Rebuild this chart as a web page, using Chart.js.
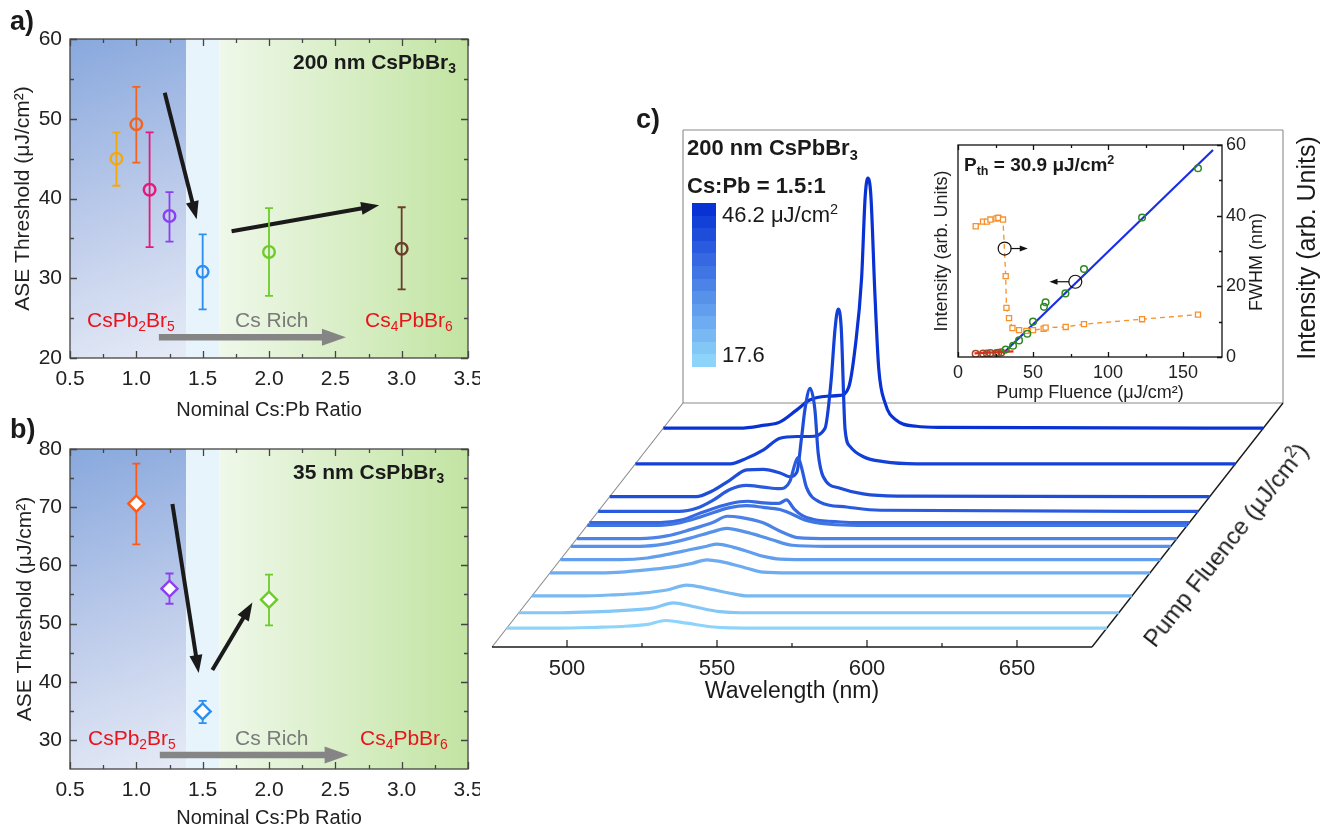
<!DOCTYPE html>
<html><head><meta charset="utf-8">
<script src="https://cdn.jsdelivr.net/npm/chart.js@4.4.0/dist/chart.umd.min.js"></script>
<style>
body{margin:0;background:#fff;width:1322px;height:828px;position:relative;overflow:hidden;font-family:"Liberation Sans",Arial,sans-serif;color:#1a1a1a;}
canvas{position:absolute;}
.t{position:absolute;white-space:nowrap;line-height:1;}
.c{transform:translate(-50%,-50%);}
.b{font-weight:bold;}
sub{font-size:0.66em;vertical-align:-0.32em;line-height:0;}
sup{font-size:0.66em;vertical-align:0.55em;line-height:0;}
.red{color:#e8141c;}
.gray{color:#7a7a7a;}
#cbar{position:absolute;left:692px;top:203px;width:24px;height:164px;display:flex;flex-direction:column;}
#cbar div{flex:1;}
</style></head><body>
<canvas id="chartA" width="480" height="428" style="left:0;top:0"></canvas>
<canvas id="chartB" width="480" height="400" style="left:0;top:428px"></canvas>
<canvas id="chartC" width="842" height="600" style="left:480px;top:110px"></canvas>
<canvas id="chartI" width="350" height="275" style="left:900px;top:130px"></canvas>

<div class="t b" style="left:10px;top:8px;font-size:27px">a)</div>
<div class="t b" style="left:10px;top:416px;font-size:27px">b)</div>
<div class="t b" style="left:636px;top:106px;font-size:27px">c)</div>

<div class="t b" style="left:293px;top:51px;font-size:21px">200 nm CsPbBr<sub>3</sub></div>
<div class="t red" style="left:87px;top:309px;font-size:21px">CsPb<sub>2</sub>Br<sub>5</sub></div>
<div class="t gray" style="left:235px;top:309px;font-size:21px">Cs Rich</div>
<div class="t red" style="left:365px;top:309px;font-size:21px">Cs<sub>4</sub>PbBr<sub>6</sub></div>

<div class="t b" style="left:293px;top:461px;font-size:21px">35 nm CsPbBr<sub>3</sub></div>
<div class="t red" style="left:88px;top:727px;font-size:21px">CsPb<sub>2</sub>Br<sub>5</sub></div>
<div class="t gray" style="left:235px;top:727px;font-size:21px">Cs Rich</div>
<div class="t red" style="left:360px;top:727px;font-size:21px">Cs<sub>4</sub>PbBr<sub>6</sub></div>

<div class="t b" style="left:687px;top:137px;font-size:22px">200 nm CsPbBr<sub>3</sub></div>
<div class="t b" style="left:687px;top:175px;font-size:22px">Cs:Pb = 1.5:1</div>
<div id="cbar"></div>
<div class="t" style="left:722px;top:204px;font-size:22px">46.2 μJ/cm<sup>2</sup></div>
<div class="t" style="left:722px;top:344px;font-size:22px">17.6</div>
<div class="t b" style="left:964px;top:155px;font-size:19px">P<sub>th</sub> = 30.9 μJ/cm<sup>2</sup></div>
<div class="t c" style="left:1256px;top:262px;font-size:18px;transform:translate(-50%,-50%) rotate(-90deg)">FWHM (nm)</div>
<div class="t c" style="left:1306px;top:248px;font-size:25px;transform:translate(-50%,-50%) rotate(-90deg)">Intensity (arb. Units)</div>
<div class="t c" style="left:1226px;top:545px;font-size:24px;transform:translate(-50%,-50%) rotate(-52deg)">Pump Fluence (μJ/cm<sup>2</sup>)</div>
<div class="t c" style="left:792px;top:690px;font-size:23px">Wavelength (nm)</div>

<script>
// ---------------- Panel a data ----------------
const ratioA    = [0.85, 1.0, 1.1, 1.25, 1.5, 2.0, 3.0];
const thrA      = [45.0, 49.3, 41.1, 37.8, 30.8, 33.3, 33.7];
const errLowA   = [41.6, 44.5, 33.9, 34.6, 26.1, 27.8, 28.6];
const errHighA  = [48.3, 54.0, 48.3, 40.8, 35.5, 38.8, 38.9];
const colorsA   = ['#f5a80a', '#f2641e', '#e8187a', '#8c3ff0', '#2d8ef0', '#6ecb2a', '#6a3d2c'];

// ---------------- Panel b data ----------------
const ratioB    = [1.0, 1.25, 1.5, 2.0];
const thrB      = [70.6, 56.0, 34.9, 54.1];
const errLowB   = [63.6, 53.4, 32.9, 49.7];
const errHighB  = [77.5, 58.6, 36.7, 58.4];
const colorsB   = ['#ff5a14', '#8c3ff0', '#2d8ef0', '#6ecb2a'];

const ratioTicks = [0.5, 1.0, 1.5, 2.0, 2.5, 3.0, 3.5];
const ratioMinor = [0.75, 1.25, 1.75, 2.25, 2.75, 3.25];
const thrTicksA  = [20, 30, 40, 50, 60];
const thrMinorA  = [25, 35, 45, 55];
const thrTicksB  = [30, 40, 50, 60, 70, 80];
const thrMinorB  = [35, 45, 55, 65, 75];

// ---------------- Panel c: waterfall spectra (front -> back) ----------------
const fluences = [17.6, 19.8, 22.2, 25.5, 27.4, 29.3, 30.4, 32.3, 32.7, 34.3, 36.4, 41.1, 46.2];
const spectraWl = [
  [475, 492, 505, 513, 522, 528, 535, 544, 550, 560, 675],
  [475, 489, 500, 509, 520, 526.5, 533, 542, 549, 560, 675],
  [475, 491, 502, 511, 520, 526.6, 533.3, 541, 547, 560, 675],
  [475, 492, 500, 508, 516, 522.7, 527.3, 531.7, 540.6, 546, 555, 675],
  [475, 495, 504, 512, 518, 523.8, 527.2, 532.7, 538, 542.7, 548.3, 560, 675],
  [475, 498, 506, 514.8, 522.4, 527, 533.4, 538, 542.1, 548.8, 560, 675],
  [475, 496, 505, 512.8, 520.5, 525.1, 529.5, 537.1, 542.8, 548.5, 560, 675],
  [475, 499, 506, 512.5, 522.5, 528, 533.6, 539.2, 542.5, 547.5, 555.8, 565, 675],
  [475, 498.7, 506, 512, 522, 527.6, 533.1, 538.2, 540.7, 543.2, 546, 549.8, 558.7, 565, 675],
  [475, 502, 508, 513.2, 518.9, 524.4, 530, 535.5, 538.9, 540.5, 541.6, 542.8, 544.4, 548.9, 557.8, 569, 675],
  [475, 503.8, 509, 515.1, 520.7, 526.2, 531.8, 535.1, 537.4, 539, 540.1, 541.8, 543.4, 544.5, 546.2, 551.8, 559.5, 570.7, 675],
  [475, 506.6, 512, 517.7, 523.2, 528.8, 533.2, 538.2, 540.2, 541.6, 542.6, 543.6, 544.9, 546.6, 551, 557.7, 568.8, 675],
  [475, 500.5, 508.2, 513.8, 519.4, 523.8, 529.4, 533.8, 536.8, 539, 541.1, 542.3, 543.2, 544.2, 545.5, 546.8, 549, 552.7, 559.4, 567.2, 675]
];
const spectraInt = [
  [0, 0, 0.003, 0.006, 0.014, 0.028, 0.018, 0.004, 0.001, 0, 0],
  [0, 0, 0.003, 0.008, 0.018, 0.036, 0.023, 0.004, 0, 0, 0],
  [0, 0, 0.004, 0.01, 0.022, 0.04, 0.028, 0.01, 0, 0, 0],
  [0, 0, 0.004, 0.012, 0.022, 0.036, 0.048, 0.042, 0.017, 0.003, 0, 0],
  [0, 0, 0.006, 0.022, 0.036, 0.049, 0.057, 0.045, 0.028, 0.012, 0.002, 0, 0],
  [0, 0, 0.008, 0.03, 0.054, 0.066, 0.052, 0.038, 0.024, 0.004, 0, 0],
  [0, 0, 0.01, 0.033, 0.06, 0.082, 0.078, 0.058, 0.027, 0.004, 0, 0],
  [0, 0, 0.01, 0.03, 0.065, 0.072, 0.066, 0.058, 0.045, 0.02, 0.004, 0, 0],
  [0, 0, 0.01, 0.035, 0.07, 0.078, 0.072, 0.07, 0.083, 0.05, 0.025, 0.011, 0.002, 0, 0],
  [0, 0, 0.012, 0.04, 0.08, 0.095, 0.089, 0.083, 0.11, 0.17, 0.197, 0.16, 0.089, 0.034, 0.016, 0.004, 0],
  [0, 0, 0.02, 0.061, 0.098, 0.1, 0.087, 0.073, 0.09, 0.22, 0.32, 0.397, 0.32, 0.16, 0.073, 0.031, 0.01, 0.002, 0],
  [0, 0, 0.02, 0.051, 0.094, 0.1, 0.1, 0.13, 0.3, 0.5, 0.567, 0.5, 0.125, 0.063, 0.026, 0.008, 0, 0],
  [0, 0, 0.01, 0.022, 0.066, 0.103, 0.117, 0.12, 0.15, 0.3, 0.55, 0.85, 0.916, 0.85, 0.5, 0.22, 0.09, 0.029, 0.007, 0.003, 0]
];
const wavelengthTicks = [500, 550, 600, 650];
const wavelengthMinor = [525, 575, 625];

// ---------------- Panel c inset ----------------
const insetFluence   = [11.8, 16.7, 19.3, 21.6, 25.6, 26.9, 30.0, 31.8, 32.3, 34.0, 36.3, 40.7, 45.6, 50.0, 57.1, 58.4, 71.8, 84.0, 122.7, 160.0];
const insetFwhm      = [37.0, 38.3, 38.3, 38.9, 39.2, 39.4, 38.9, 22.9, 13.9, 11.0, 8.2, 7.6, 7.4, 7.6, 8.0, 8.3, 8.5, 9.3, 10.7, 12.0];
const intFluenceHigh = [31.8, 36.7, 40.7, 46.2, 50.0, 57.3, 58.4, 71.6, 84.0, 122.7, 160.0];
const intHigh        = [2.1, 3.2, 4.7, 6.6, 10.0, 14.2, 15.5, 18.0, 24.9, 39.5, 53.4];
const intFluenceLow  = [11.8, 16.7, 19.3, 21.6, 25.6, 26.9, 28.9];
const intLow         = [0.9, 1.0, 1.0, 1.1, 1.1, 1.2, 1.3];
const fitBelowX = [11, 37];
const fitBelowY = [1.0, 1.6];
const fitAboveX = [30.0, 170];
const fitAboveY = [1.0, 58.6];
const markerX = [31.1, 78.2];
const markerY = [30.7, 21.3];
const insetXTicks = [0, 50, 100, 150];
const insetXMinor = [25, 75, 125];
const insetYTicks = [0, 20, 40, 60];
const insetYMinor = [10, 30, 50];

// ---------------- helpers ----------------
const FONT = '"Liberation Sans", Arial, sans-serif';
const fixTicks = vals => s => { s.ticks = vals.map(v => ({value: v})); };

function drawArrow(ctx, x1, y1, x2, y2, color, w, hl, hw) {
  const dx = x2 - x1, dy = y2 - y1, L = Math.hypot(dx, dy), ux = dx / L, uy = dy / L;
  const bx = x2 - ux * hl, by = y2 - uy * hl;
  ctx.save();
  ctx.strokeStyle = color; ctx.fillStyle = color; ctx.lineWidth = w; ctx.lineCap = 'butt';
  ctx.beginPath(); ctx.moveTo(x1, y1); ctx.lineTo(bx + ux, by + uy); ctx.stroke();
  ctx.beginPath(); ctx.moveTo(x2, y2);
  ctx.lineTo(bx - uy * hw, by + ux * hw); ctx.lineTo(bx + uy * hw, by - ux * hw); ctx.closePath(); ctx.fill();
  ctx.restore();
}

function drawFrame(chart, o) {
  const {ctx, chartArea: a} = chart;
  const xs = chart.scales[o.xScale || 'x'];
  ctx.save();
  ctx.strokeStyle = o.color; ctx.lineWidth = o.lw;
  ctx.strokeRect(a.left, a.top, a.right - a.left, a.bottom - a.top);
  ctx.beginPath();
  const hx = (vals, len) => vals.forEach(v => {
    const p = Math.round(xs.getPixelForValue(v)) + 0.5;
    ctx.moveTo(p, a.bottom); ctx.lineTo(p, a.bottom - len);
    if (o.top) { ctx.moveTo(p, a.top); ctx.lineTo(p, a.top + len); }
  });
  const vy = (scale, vals, len, left, right) => vals.forEach(v => {
    const p = Math.round(scale.getPixelForValue(v)) + 0.5;
    if (left) { ctx.moveTo(a.left, p); ctx.lineTo(a.left + len, p); }
    if (right) { ctx.moveTo(a.right, p); ctx.lineTo(a.right - len, p); }
  });
  hx(o.xMajor, o.major); hx(o.xMinor, o.minor);
  const ys = chart.scales[o.yScale || 'y'];
  vy(ys, o.yMajor, o.major, o.left !== false, o.right !== false);
  vy(ys, o.yMinor, o.minor, o.left !== false, o.right !== false);
  ctx.stroke();
  ctx.restore();
}

// background + error bars + arrows for panels a/b
const ratioPanelPlugin = {
  id: 'ratioPanel',
  beforeDatasetsDraw(chart, args, o) {
    const {ctx, chartArea: a} = chart, xs = chart.scales.x, ys = chart.scales.y;
    const xb1 = xs.getPixelForValue(1.375), xb2 = xs.getPixelForValue(1.625);
    ctx.save();
    let g = ctx.createLinearGradient(a.left, a.top, xb1, a.bottom);
    g.addColorStop(0, '#88a8dd'); g.addColorStop(0.55, '#bfcdeb'); g.addColorStop(1, '#e6ebf6');
    ctx.fillStyle = g; ctx.fillRect(a.left, a.top, xb1 - a.left, a.bottom - a.top);
    ctx.fillStyle = '#e8f4fc'; ctx.fillRect(xb1, a.top, xb2 - xb1, a.bottom - a.top);
    g = ctx.createLinearGradient(xb2, 0, a.right, 0);
    g.addColorStop(0, '#eff8ea'); g.addColorStop(1, '#c2e4a2');
    ctx.fillStyle = g; ctx.fillRect(xb2, a.top, a.right - xb2, a.bottom - a.top);
    // arrows
    o.arrows.forEach(r => drawArrow(ctx, xs.getPixelForValue(r[0]), ys.getPixelForValue(r[1]),
      xs.getPixelForValue(r[2]), ys.getPixelForValue(r[3]), r[4], r[5], r[6], r[7]));
    // error bars
    const ds = chart.data.datasets[0];
    ds.data.forEach((p, i) => {
      const x = xs.getPixelForValue(p.x), yl = ys.getPixelForValue(o.low[i]), yh = ys.getPixelForValue(o.high[i]);
      ctx.strokeStyle = o.colors[i]; ctx.lineWidth = 1.8;
      ctx.beginPath();
      ctx.moveTo(x, yl); ctx.lineTo(x, yh);
      ctx.moveTo(x - 4, yl); ctx.lineTo(x + 4, yl);
      ctx.moveTo(x - 4, yh); ctx.lineTo(x + 4, yh);
      ctx.stroke();
    });
    ctx.restore();
  },
  afterDatasetsDraw(chart, args, o) { drawFrame(chart, o.frame); }
};

function ratioChart(id, xs, ys, low, high, colors, yMin, yMax, yTicks, yMinor, style, radius, pad, xH, titleCfg, arrows) {
  return new Chart(document.getElementById(id), {
    type: 'scatter',
    data: { datasets: [{
      data: xs.map((x, i) => ({x, y: ys[i]})),
      pointStyle: style, pointRadius: radius, pointHoverRadius: radius, pointBorderWidth: 2.4,
      pointBorderColor: colors, pointBackgroundColor: style === 'rectRot' ? '#ffffff' : 'rgba(0,0,0,0)'
    }]},
    options: {
      responsive: false, animation: false, events: [],
      layout: { padding: pad },
      plugins: { legend: {display: false}, tooltip: {enabled: false},
        ratioPanel: { low, high, colors, arrows,
          frame: { color: '#444', lw: 1.3, top: true, major: 7, minor: 4,
                   xMajor: ratioTicks, xMinor: ratioMinor, yMajor: yTicks, yMinor: yMinor } } },
      scales: {
        x: { type: 'linear', min: 0.5, max: 3.5, afterBuildTicks: fixTicks(ratioTicks),
             afterFit: s => { s.height = xH; s.paddingLeft = 0; s.paddingRight = 0; },
             grid: {display: false, drawTicks: false}, border: {display: false},
             ticks: { autoSkip: false, maxRotation: 0, padding: 9, color: '#222', font: {family: FONT, size: 21}, callback: v => v.toFixed(1) },
             title: { display: true, text: 'Nominal Cs:Pb Ratio', color: '#222', font: {family: FONT, size: 20, lineHeight: 1}, padding: {top: 0, bottom: titleCfg.xb} } },
        y: { type: 'linear', min: yMin, max: yMax, afterBuildTicks: fixTicks(yTicks),
             afterFit: s => { s.width = 70; },
             grid: {display: false, drawTicks: false}, border: {display: false},
             ticks: { autoSkip: false, padding: 8, color: '#222', font: {family: FONT, size: 21} },
             title: { display: true, text: 'ASE Threshold (μJ/cm²)', color: '#222', font: {family: FONT, size: 21, lineHeight: 1}, padding: {top: titleCfg.yt, bottom: 0} } }
      }
    },
    plugins: [ratioPanelPlugin]
  });
}

// arrows: [x1, y1, x2, y2, color, width, headLen, headHalfWidth] in data units
const arrowsA = [
  [1.17, 22.6, 2.58, 22.6, '#858585', 6.5, 24, 8.5],
  [1.214, 53.25, 1.455, 37.4, '#1a1a1a', 4, 18, 6.5],
  [1.718, 35.9, 2.83, 39.15, '#1a1a1a', 4, 18, 6.5]
];
const arrowsB = [
  [1.177, 27.4, 2.6, 27.4, '#858585', 6.5, 24, 8.5],
  [1.272, 70.55, 1.47, 41.5, '#1a1a1a', 4, 18, 6.5],
  [1.573, 42.0, 1.875, 53.6, '#1a1a1a', 4, 18, 6.5]
];

ratioChart('chartA', ratioA, thrA, errLowA, errHighA, colorsA, 20, 60, thrTicksA, thrMinorA, 'circle', 5.8,
  {top: 39, right: 12, left: 0, bottom: 0}, 70, {xb: 8, yt: 13}, arrowsA);
ratioChart('chartB', ratioB, thrB, errLowB, errHighB, colorsB, 25, 80, thrTicksB, thrMinorB, 'rectRot', 8,
  {top: 21, right: 12, left: 0, bottom: 0}, 59, {xb: 0, yt: 15}, arrowsB);

// ---------------- Panel c: waterfall ----------------
const FL_MIN = 14.9, FL_MAX = 49.8;        // depth (pump fluence) axis range
const WL_MIN = 475, WL_MAX = 675;          // wavelength axis range
const DEPTH_DX = 63.67, DEPTH_DY = 0.8938; // oblique projection of the depth axis
const depthOf = f => (f - FL_MIN) / (FL_MAX - FL_MIN);
const traceColors = fluences.map((f, i) => {
  const t = i / (fluences.length - 1), c0 = [142, 212, 250], c1 = [8, 50, 212];
  return 'rgb(' + c0.map((v, k) => Math.round(v + (c1[k] - v) * t)).join(',') + ')';
});
const cbar = document.getElementById('cbar');
traceColors.slice().reverse().forEach(c => { const d = document.createElement('div'); d.style.background = c; cbar.appendChild(d); });

const waterfallPlugin = {
  id: 'waterfall',
  beforeDatasetsDraw(chart) {
    const {ctx} = chart, xs = chart.scales.x, ys = chart.scales.y;
    const P = (wl, d, I) => [xs.getPixelForValue(wl + d * DEPTH_DX), ys.getPixelForValue(I + d * DEPTH_DY)];
    const seg = (p, q) => { ctx.beginPath(); ctx.moveTo(p[0], p[1]); ctx.lineTo(q[0], q[1]); ctx.stroke(); };
    const FL = P(WL_MIN, 0, 0), FR = P(WL_MAX, 0, 0), BL = P(WL_MIN, 1, 0), BR = P(WL_MAX, 1, 0),
          TL = P(WL_MIN, 1, 1), TR = P(WL_MAX, 1, 1);
    ctx.save();
    ctx.strokeStyle = '#8a8a8a'; ctx.lineWidth = 1.1;
    seg(BL, FL); seg(BL, BR); seg(BL, TL); seg(TL, TR); seg(TR, BR);
    ctx.strokeStyle = '#1a1a1a'; ctx.lineWidth = 1.4;
    seg(FL, FR); seg(FR, BR);
    ctx.lineWidth = 1.2;
    wavelengthTicks.forEach(w => { const p = P(w, 0, 0); seg(p, [p[0], p[1] - 7]); });
    wavelengthMinor.forEach(w => { const p = P(w, 0, 0); seg(p, [p[0], p[1] - 4]); });
    ctx.restore();
  }
};

new Chart(document.getElementById('chartC'), {
  type: 'scatter',
  data: { datasets: fluences.map((f, i) => {
    const d = depthOf(f);
    return {
      data: spectraWl[i].map((w, k) => ({x: w + d * DEPTH_DX, y: spectraInt[i][k] + d * DEPTH_DY})),
      showLine: true, borderColor: traceColors[i], borderWidth: 3.2, pointRadius: 0,
      cubicInterpolationMode: 'monotone', borderJoinStyle: 'round'
    };
  })},
  options: {
    responsive: false, animation: false, events: [],
    layout: { padding: {left: 12, top: 20, right: 39, bottom: 0} },
    plugins: { legend: {display: false}, tooltip: {enabled: false} },
    scales: {
      x: { type: 'linear', min: WL_MIN, max: WL_MAX + DEPTH_DX, afterBuildTicks: fixTicks(wavelengthTicks),
           afterFit: s => { s.height = 63; s.paddingLeft = 0; s.paddingRight = 0; },
           grid: {display: false, drawTicks: false}, border: {display: false},
           ticks: { autoSkip: false, maxRotation: 0, padding: 9, color: '#222', font: {family: FONT, size: 22} } },
      y: { type: 'linear', display: false, min: 0, max: 1 + DEPTH_DY }
    }
  },
  plugins: [waterfallPlugin]
});

// ---------------- Inset ----------------
const insetPlugin = {
  id: 'inset',
  afterDatasetsDraw(chart) {
    const {ctx} = chart, xs = chart.scales.x, ys = chart.scales.y1;
    drawArrow(ctx, xs.getPixelForValue(markerX[0]) + 6, ys.getPixelForValue(markerY[0]),
      xs.getPixelForValue(46.5), ys.getPixelForValue(markerY[0]), '#111', 1.2, 8, 3);
    drawArrow(ctx, xs.getPixelForValue(markerX[1]) - 6, ys.getPixelForValue(markerY[1]),
      xs.getPixelForValue(61), ys.getPixelForValue(markerY[1]), '#111', 1.2, 8, 3);
    drawFrame(chart, { color: '#111', lw: 1.3, top: true, major: 5, minor: 3, left: false, right: true,
      xMajor: insetXTicks, xMinor: insetXMinor, yScale: 'y1', yMajor: insetYTicks, yMinor: insetYMinor });
  }
};
const pts = (xs, ys) => xs.map((x, i) => ({x, y: ys[i]}));
new Chart(document.getElementById('chartI'), {
  type: 'scatter',
  data: { datasets: [
    { data: pts(markerX, markerY), yAxisID: 'y1', pointRadius: 6.5, pointBorderWidth: 1.2,
      pointBorderColor: '#111', pointBackgroundColor: 'rgba(0,0,0,0)' },
    { data: pts(intFluenceHigh, intHigh), yAxisID: 'y', pointRadius: 3.3, pointBorderWidth: 1.5,
      pointBorderColor: '#2e8a22', pointBackgroundColor: 'rgba(0,0,0,0)' },
    { data: pts(intFluenceLow, intLow), yAxisID: 'y', pointRadius: 3.3, pointBorderWidth: 1.5,
      pointBorderColor: '#a04a24', pointBackgroundColor: 'rgba(0,0,0,0)' },
    { data: pts(insetFluence, insetFwhm), yAxisID: 'y1', showLine: true, borderColor: '#f7902a', borderWidth: 1.3,
      borderDash: [5, 4], pointStyle: 'rect', pointRadius: 3.6, pointBorderWidth: 1.3,
      pointBorderColor: '#f7902a', pointBackgroundColor: '#ffffff' },
    { data: pts(fitBelowX, fitBelowY), yAxisID: 'y', showLine: true, borderColor: '#ff2020', borderWidth: 2.2, pointRadius: 0 },
    { data: pts(fitAboveX, fitAboveY), yAxisID: 'y', showLine: true, borderColor: '#1a2ee6', borderWidth: 2.2, pointRadius: 0 }
  ]},
  options: {
    responsive: false, animation: false, events: [],
    layout: { padding: {left: 0, top: 15, right: 0, bottom: 0} },
    plugins: { legend: {display: false}, tooltip: {enabled: false} },
    scales: {
      x: { type: 'linear', min: 0, max: 176, afterBuildTicks: fixTicks(insetXTicks),
           afterFit: s => { s.height = 48; },
           grid: {display: false, drawTicks: false}, border: {display: false},
           ticks: { autoSkip: false, maxRotation: 0, padding: 5, color: '#222', font: {family: FONT, size: 18} },
           title: { display: true, text: 'Pump Fluence (μJ/cm²)', color: '#222', font: {family: FONT, size: 18, lineHeight: 1}, padding: {top: 0, bottom: 3} } },
      y: { type: 'linear', position: 'left', min: 0, max: 60,
           afterFit: s => { s.width = 58; },
           grid: {display: false, drawTicks: false}, border: {display: false},
           ticks: { display: false },
           title: { display: true, text: 'Intensity (arb. Units)', color: '#222', font: {family: FONT, size: 18, lineHeight: 1}, padding: {top: 33, bottom: 0} } },
      y1: { type: 'linear', position: 'right', min: 0, max: 60, afterBuildTicks: fixTicks(insetYTicks),
           afterFit: s => { s.width = 28; },
           grid: {display: false, drawTicks: false}, border: {display: false},
           ticks: { autoSkip: false, padding: 4, color: '#222', font: {family: FONT, size: 18} } }
    }
  },
  plugins: [insetPlugin]
});
</script>
</body></html>
